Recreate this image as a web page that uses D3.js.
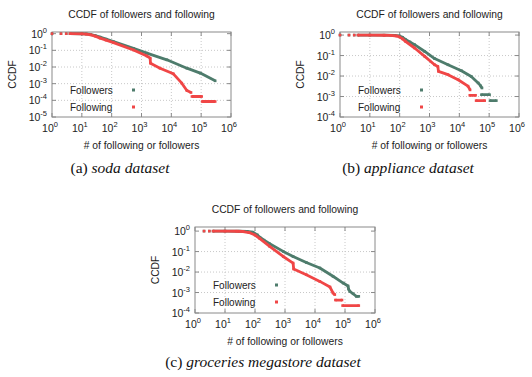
<!DOCTYPE html>
<html>
<head>
<meta charset="utf-8">
<script src="https://cdn.jsdelivr.net/npm/d3@7"></script>
<style>
body { margin: 0; background: #fff; }
svg text { font-family: "Liberation Sans", Arial, sans-serif; fill: #222; }
svg text.cap { font-family: "Liberation Serif", "Times New Roman", serif; fill: #111; }
</style>
</head>
<body>
<svg id="fig" width="532" height="377"></svg>
<script>
// ---- data: [number of following/followers, CCDF], null = gap in the point cloud ----
const followersSoda = [[1,1],null,[2,0.999],null,[3,0.998],null,[4,0.997],[10,0.99],[14,0.96],[20,0.89],[28,0.77],[41,0.62],
  [65,0.47],[115,0.33],[537,0.132],[1510,0.068],[7080,0.027],[33100,0.0085],[93300,0.0043],[295000,0.00148]];
const followingSoda = [[1,1],null,[2,0.999],null,[3,0.998],null,[4,0.997],[10,0.985],[14,0.94],[20,0.85],[28,0.71],[41,0.54],
  [65,0.41],[115,0.29],[537,0.105],[1510,0.0457],[1950,0.0339],[2000,0.017],[4170,0.0085],[11700,0.0039],[22400,0.00107],
  [33100,3.9e-4],[45700,2.95e-4],null,[49000,1.7e-4],[104000,1.7e-4],null,[108000,8.5e-5],[295000,8.5e-5]];

const followersAppliance = [[1,1],null,[2,0.999],null,[3,0.998],null,[4,0.998],[10,0.995],[30,0.985],[68,0.965],[100,0.9],
  [125,0.78],[160,0.6],[220,0.46],[316,0.34],[692,0.158],[1480,0.071],[4170,0.0355],[11700,0.0182],[25100,0.0095],[42700,0.0046],
  [52000,0.0033],[57500,0.0026],null,[55000,0.00123],[103000,0.00123],null,[107000,6.3e-4],[174000,6.3e-4]];
const followingAppliance = [[1,1],null,[2,0.999],null,[3,0.998],null,[4,0.998],[10,0.995],[30,0.98],[50,0.965],[80,0.9],[100,0.8],
  [125,0.65],[160,0.48],[316,0.234],[692,0.091],[1480,0.0355],[1900,0.0295],[2000,0.017],[4170,0.0117],[9120,0.0066],
  [19500,0.0032],[22900,0.0021],null,[22400,0.00115],[35000,0.00115],null,[36500,6.3e-4],[70800,6.3e-4]];

const followersGroceries = [[2,1],null,[3,0.999],null,[4,0.998],[10,0.995],[30,0.985],[55,0.96],[85,0.88],[120,0.65],[145,0.5],
  [200,0.36],[309,0.24],[871,0.102],[1860,0.0575],[5130,0.0295],[14500,0.0158],[39800,0.0062],[87000,0.0029],[126000,0.0021],
  [132000,0.00146],[145000,0.00115],[186000,0.00087],[240000,0.00065],[288000,0.00065]];
const followingGroceries = [[2,1],null,[3,0.999],null,[4,0.998],[10,0.995],[25,0.985],[40,0.955],[63,0.85],[100,0.64],
  [145,0.43],[309,0.178],[871,0.0575],[1860,0.0275],[1950,0.0141],[5130,0.0074],[14500,0.0035],[31600,0.00186],
  [39800,0.00095],[45700,0.00079],null,[47900,4.3e-4],[79400,4.3e-4],null,[83200,2.3e-4],[288000,2.3e-4]];

const xTickExps = [0, 1, 2, 3, 4, 5, 6];
const yTickExpsSoda = [0, -1, -2, -3, -4, -5];
const yTickExpsOther = [0, -1, -2, -3, -4];
const seriesNames = ["Followers", "Following"];
const title = "CCDF of followers and following";
const xLabel = "# of following or followers";
const yLabel = "CCDF";

const COLORS = { followers: "#4e7c6c", following: "#f04646", grid: "#c8c8c8", border: "#8a8a8a" };

const svg = d3.select("#fig");

function expLabel(sel, exp) {
  sel.text("10");
  sel.append("tspan").attr("dy", -5).attr("font-size", 7.5).text(exp);
}

function drawPanel(p) {
  const g = svg.append("g");
  const x = d3.scaleLog().domain([1, 1e6]).range([p.left, p.left + p.w]);
  const y = d3.scaleLog().domain([Math.pow(10, p.yMin), Math.pow(10, p.yMax)]).range([p.top + p.h, p.top]);
  const bottom = p.top + p.h, right = p.left + p.w;

  // dotted grid
  g.selectAll(".gx").data(xTickExps.slice(1, -1)).join("line")
    .attr("x1", d => x(Math.pow(10, d))).attr("x2", d => x(Math.pow(10, d)))
    .attr("y1", p.top).attr("y2", bottom)
    .attr("stroke", COLORS.grid).attr("stroke-dasharray", "1,2");
  g.selectAll(".gy").data(p.yTicks.filter(d => d > p.yMin && d < 0)).join("line")
    .attr("x1", p.left).attr("x2", right)
    .attr("y1", d => y(Math.pow(10, d))).attr("y2", d => y(Math.pow(10, d)))
    .attr("stroke", COLORS.grid).attr("stroke-dasharray", "1,2");

  // inward ticks on all sides
  g.selectAll(".tx").data(xTickExps).join("path")
    .attr("d", d => { const px = x(Math.pow(10, d)); return `M${px},${bottom}v-4M${px},${p.top}v4`; })
    .attr("stroke", COLORS.border);
  g.selectAll(".ty").data(p.yTicks).join("path")
    .attr("d", d => { const py = y(Math.pow(10, d)); return `M${p.left},${py}h4M${right},${py}h-4`; })
    .attr("stroke", COLORS.border);

  g.append("rect").attr("x", p.left).attr("y", p.top).attr("width", p.w).attr("height", p.h)
    .attr("fill", "none").attr("stroke", COLORS.border);

  // tick labels
  g.selectAll(".lx").data(xTickExps).join("text")
    .attr("x", d => x(Math.pow(10, d)) - 2).attr("y", bottom + 15)
    .attr("text-anchor", "middle").attr("font-size", 10.5)
    .each(function (d) { expLabel(d3.select(this), d); });
  g.selectAll(".ly").data(p.yTicks).join("text")
    .attr("x", p.left - 5).attr("y", d => y(Math.pow(10, d)) + 4)
    .attr("text-anchor", "end").attr("font-size", 10.5)
    .each(function (d) { expLabel(d3.select(this), d); });

  // titles
  const cx = p.left + p.w / 2;
  g.append("text").attr("x", cx).attr("y", p.top - 14).attr("text-anchor", "middle")
    .attr("font-size", 10.3).text(title);
  g.append("text").attr("x", cx).attr("y", bottom + 32).attr("text-anchor", "middle")
    .attr("font-size", 10.3).text(xLabel);
  g.append("text").attr("transform", `translate(${p.left - 36},${p.top + p.h / 2}) rotate(-90)`)
    .attr("text-anchor", "middle").attr("font-size", 10.3).text(yLabel);

  // series
  const line = d3.line().defined(d => d).x(d => x(d[0])).y(d => y(d[1]));
  [[p.followers, COLORS.followers], [p.following, COLORS.following]].forEach(([data, c]) => {
    g.append("path").datum(data).attr("d", line).attr("fill", "none")
      .attr("stroke", c).attr("stroke-width", 2.8).attr("stroke-linejoin", "round");
    g.selectAll(null).data(data.filter(d => d)).join("rect")
      .attr("x", d => x(d[0]) - 1.3).attr("y", d => y(d[1]) - 1.3)
      .attr("width", 2.6).attr("height", 2.6).attr("fill", c);
  });

  // legend
  const lg = g.append("g");
  [COLORS.followers, COLORS.following].forEach((c, i) => {
    const ly = p.top + 58 + i * 17;
    lg.append("text").attr("x", p.left + 18).attr("y", ly + 3.5).attr("font-size", 10).text(seriesNames[i]);
    lg.append("rect").attr("x", p.left + 80).attr("y", ly - 1.5).attr("width", 3).attr("height", 3).attr("fill", c);
  });

  // caption
  const cap = svg.append("text").attr("class", "cap").attr("x", p.capX).attr("y", p.capY)
    .attr("text-anchor", "middle").attr("font-size", 15.5);
  cap.append("tspan").text(p.capTag + " ");
  cap.append("tspan").attr("font-style", "italic").text(p.capText);
}

drawPanel({ left: 52, top: 32, w: 179, h: 85, yMin: -5, yMax: 0.1, yTicks: yTickExpsSoda,
  followers: followersSoda, following: followingSoda, capX: 120, capY: 173, capTag: "(a)", capText: "soda dataset" });
drawPanel({ left: 340, top: 32, w: 179, h: 85, yMin: -4, yMax: 0.15, yTicks: yTickExpsOther,
  followers: followersAppliance, following: followingAppliance, capX: 408, capY: 173, capTag: "(b)", capText: "appliance dataset" });
drawPanel({ left: 195, top: 227, w: 180, h: 86, yMin: -4, yMax: 0.2, yTicks: yTickExpsOther,
  followers: followersGroceries, following: followingGroceries, capX: 263, capY: 367, capTag: "(c)", capText: "groceries megastore dataset" });
</script>
</body>
</html>
